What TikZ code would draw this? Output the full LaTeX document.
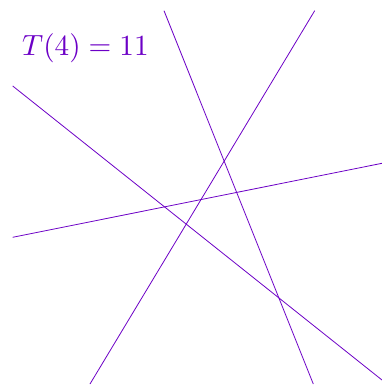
\documentclass[tikz,border=0pt]{standalone}
\usepackage{graphicx}
\definecolor{lc}{RGB}{108,0,198}
\begin{document}
\begin{tikzpicture}[x=1pt,y=-1pt,ln/.style={draw=lc,line width=0.8pt}]
\useasboundingbox (0,0) rectangle (382,385);
\clip (0,0) rectangle (382,385);
\coordinate (a1) at (164,10.7);
\coordinate (a2) at (313.3,384);
\coordinate (b1) at (314.7,10.7);
\coordinate (b2) at (90,384);
\coordinate (c1) at (12.7,86);
\coordinate (c2) at (382,380);
\coordinate (d1) at (12.7,237.3);
\coordinate (d2) at (382,163.3);
\draw[ln] (a1) -- (a2);
\draw[ln] (b1) -- (b2);
\draw[ln] (c1) -- (c2);
\draw[ln] (d1) -- (d2);
\node[anchor=base west,inner sep=0pt,text=lc] (t) at (22,56) {\scalebox{2.92}{$T(4) = 11$}};
\end{tikzpicture}
\end{document}
